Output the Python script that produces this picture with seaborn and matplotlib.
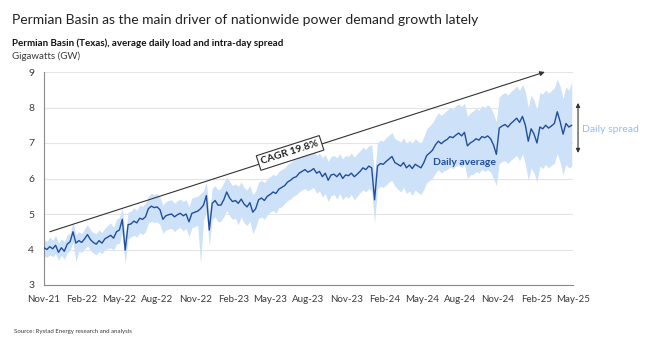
import matplotlib
matplotlib.use("Agg")
import matplotlib.pyplot as plt
import pandas as pd
import seaborn as sns

# Weekly average load (GW), Permian Basin
avg_2021 = [4.05, 4.00, 4.08, 4.02, 4.12, 3.92, 4.05, 3.95, 4.15]
avg_2022 = [4.22, 4.50, 4.18, 4.25, 4.20,
            4.30, 4.42, 4.28, 4.20,
            4.15, 4.25, 4.18, 4.30,
            4.35, 4.40, 4.32, 4.50,
            4.55, 4.85, 3.98, 4.70, 4.72,
            4.80, 4.75, 4.88, 4.85,
            4.92, 5.15, 5.22, 5.18,
            5.20, 5.12, 4.85, 4.95, 4.98,
            5.00, 4.92, 4.98, 5.02,
            4.95, 5.00, 4.78, 5.02, 5.05,
            5.08, 5.15, 5.25, 5.52,
            4.55, 5.30, 5.38, 5.25]
avg_2023 = [5.25, 5.40, 5.62, 5.45, 5.35,
            5.38, 5.30, 5.42, 5.28,
            5.20, 5.32, 5.05, 5.15,
            5.40, 5.45, 5.38, 5.50,
            5.55, 5.62, 5.58, 5.70, 5.75,
            5.80, 5.90, 5.95, 6.02,
            6.05, 6.15, 6.20, 6.25, 6.18,
            6.22, 6.28, 6.15, 6.20,
            6.05, 6.15, 5.95, 6.10,
            6.12, 6.05, 6.15, 6.00, 6.10,
            6.08, 6.15, 6.05, 6.12,
            6.20, 6.30, 6.25, 6.35]
avg_2024 = [6.30, 5.40, 6.35, 6.42, 6.40,
            6.48, 6.55, 6.62, 6.45,
            6.40, 6.35, 6.45, 6.30,
            6.38, 6.28, 6.40, 6.35, 6.30,
            6.45, 6.65, 6.72, 6.80,
            6.95, 7.05, 6.98, 7.05,
            7.10, 7.18, 7.15, 7.22, 7.28,
            7.20, 7.30, 6.92, 7.00,
            7.05, 7.12, 7.08, 7.18, 7.15,
            7.20, 7.12, 6.95, 6.68,
            7.42, 7.48, 7.52, 7.45,
            7.55, 7.62, 7.70, 7.58, 7.75]
avg_2025 = [7.50, 7.05, 7.40, 7.25,
            7.00, 7.45, 7.40, 7.50,
            7.42, 7.48, 7.55, 7.88, 7.60,
            7.25, 7.55, 7.45, 7.50]

# Weekly intra-day minimum load (GW)
low_2021 = [3.82, 3.78, 3.85, 3.80, 3.88, 3.70, 3.84, 3.72, 3.90]
low_2022 = [3.98, 4.20, 3.65, 3.95, 3.92,
            4.02, 4.10, 3.98, 3.90,
            3.85, 3.95, 3.88, 4.00,
            4.02, 4.05, 3.98, 4.15,
            4.18, 4.45, 3.60, 4.30, 4.35,
            4.40, 4.35, 4.48, 4.42,
            4.50, 4.75, 4.80, 4.76,
            4.78, 4.70, 4.45, 4.55, 4.58,
            4.60, 4.50, 4.58, 4.62,
            4.52, 4.60, 4.35, 4.62, 4.65,
            4.68, 3.62, 4.82, 5.05,
            4.10, 4.85, 4.92, 4.78]
low_2023 = [4.80, 4.92, 5.10, 4.95, 4.85,
            4.88, 4.70, 4.92, 4.75,
            4.68, 4.80, 4.45, 4.62,
            4.88, 4.92, 4.85, 4.98,
            5.05, 5.10, 5.02, 5.18, 5.20,
            5.30, 5.38, 5.42, 5.50,
            5.55, 5.62, 5.68, 5.72, 5.65,
            5.70, 5.75, 5.58, 5.65,
            5.48, 5.58, 5.35, 5.52,
            5.55, 5.42, 5.58, 5.40, 5.50,
            5.45, 5.55, 5.40, 5.50,
            5.60, 5.68, 5.62, 5.72]
low_2024 = [5.65, 4.75, 5.70, 5.78, 5.75,
            5.82, 5.90, 5.95, 5.78,
            5.70, 5.62, 5.75, 5.58,
            5.65, 5.52, 5.68, 5.60, 5.55,
            5.70, 5.88, 5.95, 6.02,
            6.15, 6.25, 6.15, 6.22,
            6.25, 6.32, 6.28, 6.35, 6.40,
            6.30, 6.42, 6.00, 6.10,
            6.12, 6.20, 6.15, 6.25, 6.20,
            6.25, 6.18, 6.00, 5.80,
            6.42, 6.48, 6.50, 6.42,
            6.52, 6.58, 6.65, 6.50, 6.70]
low_2025 = [6.40, 5.95, 6.30, 6.15,
            5.90, 6.35, 6.28, 6.40,
            6.30, 6.38, 6.42, 6.70, 6.45,
            6.10, 6.40, 6.30, 6.35]

# Weekly intra-day maximum load (GW)
high_2021 = [4.28, 4.22, 4.35, 4.26, 4.40, 4.18, 4.30, 4.22, 4.42]
high_2022 = [4.45, 4.78, 4.42, 4.50, 4.45,
             4.58, 4.70, 4.55, 4.48,
             4.45, 4.55, 4.48, 4.60,
             4.68, 4.75, 4.62, 4.85,
             4.90, 5.20, 4.35, 5.05, 5.08,
             5.18, 5.10, 5.25, 5.22,
             5.30, 5.50, 5.58, 5.55,
             5.58, 5.48, 5.25, 5.35, 5.38,
             5.40, 5.30, 5.38, 5.42,
             5.35, 5.40, 5.20, 5.45, 5.48,
             5.50, 5.58, 5.65, 5.90,
             5.00, 5.72, 5.80, 5.68]
high_2023 = [5.72, 5.88, 6.05, 5.92, 5.80,
             5.85, 5.78, 5.90, 5.75,
             5.68, 5.80, 5.55, 5.65,
             5.90, 5.95, 5.88, 6.00,
             6.05, 6.12, 6.08, 6.20, 6.25,
             6.30, 6.40, 6.45, 6.52,
             6.55, 6.65, 6.70, 6.75, 6.68,
             6.72, 6.78, 6.65, 6.72,
             6.58, 6.68, 6.48, 6.62,
             6.65, 6.58, 6.70, 6.55, 6.65,
             6.62, 6.72, 6.60, 6.70,
             6.78, 6.88, 6.82, 6.92]
high_2024 = [6.95, 6.10, 7.00, 7.08, 7.05,
             7.15, 7.22, 7.30, 7.12,
             7.08, 7.02, 7.15, 6.98,
             7.08, 6.98, 7.12, 7.05, 7.00,
             7.18, 7.40, 7.48, 7.58,
             7.72, 7.85, 7.78, 7.85,
             7.92, 8.00, 7.95, 8.05, 8.10,
             8.02, 8.12, 7.75, 7.85,
             7.90, 7.98, 7.92, 8.05, 8.00,
             8.08, 8.00, 7.82, 7.60,
             8.30, 8.38, 8.42, 8.35,
             8.45, 8.52, 8.60, 8.48, 8.65]
high_2025 = [8.45, 8.00, 8.35, 8.20,
             7.95, 8.42, 8.38, 8.50,
             8.40, 8.48, 8.55, 8.80, 8.60,
             8.25, 8.58, 8.48, 8.72]

tick_labels = ["Nov-21", "Feb-22", "May-22", "Aug-22", "Nov-22", "Feb-23", "May-23",
               "Aug-23", "Nov-23", "Feb-24", "May-24", "Aug-24", "Nov-24", "Feb-25", "May-25"]
cagr_label = "CAGR 19.8%"

avg = avg_2021 + avg_2022 + avg_2023 + avg_2024 + avg_2025
low = low_2021 + low_2022 + low_2023 + low_2024 + low_2025
high = high_2021 + high_2022 + high_2023 + high_2024 + high_2025

df = pd.DataFrame({
    "date": pd.date_range("2021-11-01", periods=len(avg), freq="7D"),
    "avg": avg, "low": low, "high": high,
})

AVG_COLOR = "#1f4f9c"
SPREAD_COLOR = "#cde1f8"
SPREAD_TEXT = "#93bdee"
TEXT = "#3a3a3a"

sns.set_style("white")
plt.rcParams["font.family"] = ["Lato", "DejaVu Sans"]

fig = plt.figure(figsize=(6.64, 3.38), dpi=100)
ax = fig.add_axes([44 / 664, 1 - 285 / 338, (573 - 44) / 664, (285 - 72) / 338])

ax.fill_between(df["date"], df["low"], df["high"], color=SPREAD_COLOR, lw=0, zorder=2)
sns.lineplot(data=df, x="date", y="avg", ax=ax, color=AVG_COLOR, lw=1.0, zorder=3)

ax.set_xlim(pd.Timestamp("2021-11-01"), pd.Timestamp("2025-05-01"))
ax.set_ylim(3, 9)
ax.set_yticks(range(3, 10))
ticks = pd.date_range("2021-11-01", "2025-05-01", freq="3MS")
ax.set_xticks(ticks)
ax.set_xticklabels(tick_labels)
ax.set_xlabel("")
ax.set_ylabel("")

ax.yaxis.grid(True, color="#e4e4e4", lw=0.8)
ax.set_axisbelow(True)
for side in ("top", "right"):
    ax.spines[side].set_visible(False)
for side in ("left", "bottom"):
    ax.spines[side].set_color("#8a8a8a")
    ax.spines[side].set_linewidth(0.8)
ax.tick_params(axis="both", direction="out", length=4, width=0.8, color="#8a8a8a",
               labelcolor=TEXT, labelsize=7, pad=3)
ax.tick_params(axis="y", labelsize=7.5)

# CAGR trend arrow
x0, y0 = pd.Timestamp("2021-11-15"), 4.5
x1, y1 = pd.Timestamp("2025-02-22"), 9.0
ax.annotate("", xy=(x1, y1), xytext=(x0, y0), annotation_clip=False,
            arrowprops=dict(arrowstyle="-|>", color="#333333", lw=0.8,
                            mutation_scale=7, shrinkA=0, shrinkB=0))
ax.text(pd.Timestamp("2023-06-18"), 6.72, cagr_label, rotation=17.8, ha="center", va="center",
        fontsize=7.5, fontweight="bold", color="#222222", rotation_mode="anchor", zorder=5,
        bbox=dict(boxstyle="square,pad=0.3", fc="white", ec="#333333", lw=0.8))

ax.text(pd.Timestamp("2024-08-13"), 6.45, "Daily average", ha="center", va="center",
        fontsize=7.5, fontweight="bold", color=AVG_COLOR, zorder=5)

# Spread marker on the right
ax.annotate("", xy=(1.0095, 8.13), xytext=(1.0095, 6.72),
            xycoords=("axes fraction", "data"), textcoords=("axes fraction", "data"),
            annotation_clip=False,
            arrowprops=dict(arrowstyle="<|-|>", color="#333333", lw=0.8,
                            mutation_scale=6, shrinkA=0, shrinkB=0))
fig.text(610 / 664, 1 - 130 / 338, "Daily spread", ha="center", va="center",
         fontsize=7.5, color=SPREAD_TEXT)

fig.text(12 / 664, 1 - 20 / 338,
         "Permian Basin as the main driver of nationwide power demand growth lately",
         ha="left", va="center", fontsize=10, color="#222222")
fig.text(12 / 664, 1 - 43 / 338,
         "Permian Basin (Texas), average daily load and intra-day spread",
         ha="left", va="center", fontsize=7, fontweight="bold", color="#111111")
fig.text(12 / 664, 1 - 56 / 338, "Gigawatts (GW)", ha="left", va="center",
         fontsize=7, color=TEXT)
fig.text(14 / 664, 1 - 332 / 338, "Source: Rystad Energy research and analysis",
         ha="left", va="center", fontsize=4.4, color=TEXT)

fig.savefig("out.png", dpi=100, facecolor="white")
